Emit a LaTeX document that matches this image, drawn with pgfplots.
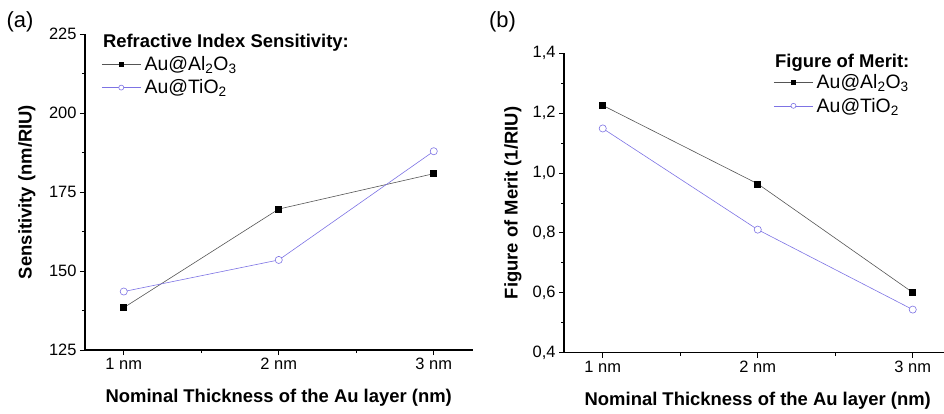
\documentclass[border=0pt]{standalone}
\usepackage{fontspec}
\setmainfont{Liberation Sans}
\usepackage{pgfplots}
\pgfplotsset{compat=1.18}
\definecolor{alline}{RGB}{85,85,85}
\definecolor{tiline}{RGB}{125,115,228}
\begin{document}
\begin{tikzpicture}
\path[use as bounding box] (-85bp,-64bp) rectangle (859bp,350bp);
\pgfplotsset{
  common/.style={
    scale only axis, width=387.5bp,
    xmin=0.75, xmax=3.25,
    axis x line=bottom, axis y line=left,
    axis line style={-, line width=1.1pt},
    xtick={1,2,3}, xticklabels={1 nm,2 nm,3 nm},
    minor x tick num=1, minor y tick num=1,
    tick align=outside, major tick length=5bp, minor tick length=3bp,
    every tick/.style={black, line width=0.9pt},
    ticklabel style={font=\fontsize{16.5}{19}\selectfont},
    /pgf/number format/assume math mode=true,
    label style={font=\bfseries\fontsize{18.5}{21}\selectfont},
    xlabel={Nominal Thickness of the Au layer (nm)},
    xlabel style={at={(axis description cs:0.5,0)}, anchor=center, yshift=-48bp},
    legend cell align=left,
    legend style={draw=none, fill=none, anchor=north west, font=\fontsize{19.5}{22}\selectfont, inner sep=0pt, row sep=5bp, nodes={inner ysep=1.5bp, inner xsep=3.5bp}},
    legend image code/.code={\draw[mark repeat=2,mark phase=2,##1,every mark/.append style={scale=0.7}] plot coordinates {(0bp,0bp) (19.5bp,0bp) (39bp,0bp)};},
    clip=false,
  },
  alstyle/.style={color=alline, line width=0.6pt, mark=square*, mark size=3pt, mark options={fill=black, draw=black}},
  tistyle/.style={color=tiline, line width=0.6pt, mark=*, mark size=3.6pt, mark options={fill=white, draw=tiline}},
}
\begin{axis}[common, at={(0bp,0bp)}, anchor=south west, height=316bp,
  ymin=125, ymax=225, ytick={125,150,175,200,225},
  ylabel={Sensitivity (nm/RIU)},
  ylabel style={at={(axis description cs:-0.15,0.5)}, anchor=center},
  legend style={at={(axis description cs:0.042,0.935)}}]
\addplot[alstyle] coordinates {(1,138.4) (2,169.6) (3,180.8)};
\addlegendentry{Au@Al\textsubscript{2}O\textsubscript{3}}
\addplot[tistyle] coordinates {(1,143.5) (2,153.5) (3,187.9)};
\addlegendentry{Au@TiO\textsubscript{2}}
\node[anchor=west, inner sep=0pt, font=\bfseries\fontsize{18.5}{21}\selectfont] at (axis description cs:0.046,0.971) {Refractive Index Sensitivity:};
\end{axis}
\begin{axis}[common, at={(479bp,-2.7bp)}, anchor=south west, height=299.4bp,
  ymin=0.4, ymax=1.4, ytick={0.4,0.6,0.8,1.0,1.2,1.4},
  yticklabel style={/pgf/number format/.cd, use comma, fixed, fixed zerofill, precision=1},
  ylabel={Figure of Merit (1/RIU)},
  ylabel style={at={(axis description cs:-0.132,0.5)}, anchor=center},
  legend style={at={(axis description cs:0.5405,0.935)}}]
\addplot[alstyle] coordinates {(1,1.226) (2,0.964) (3,0.601)};
\addlegendentry{Au@Al\textsubscript{2}O\textsubscript{3}}
\addplot[tistyle] coordinates {(1,1.149) (2,0.811) (3,0.544)};
\addlegendentry{Au@TiO\textsubscript{2}}
\node[anchor=west, inner sep=0pt, font=\bfseries\fontsize{18.5}{21}\selectfont] at (axis description cs:0.5445,0.9676) {Figure of Merit:};
\end{axis}
\node[font=\fontsize{22}{26}\selectfont] at (-65bp,328bp) {(a)};
\node[font=\fontsize{22}{26}\selectfont] at (417.5bp,328bp) {(b)};
\end{tikzpicture}
\end{document}
